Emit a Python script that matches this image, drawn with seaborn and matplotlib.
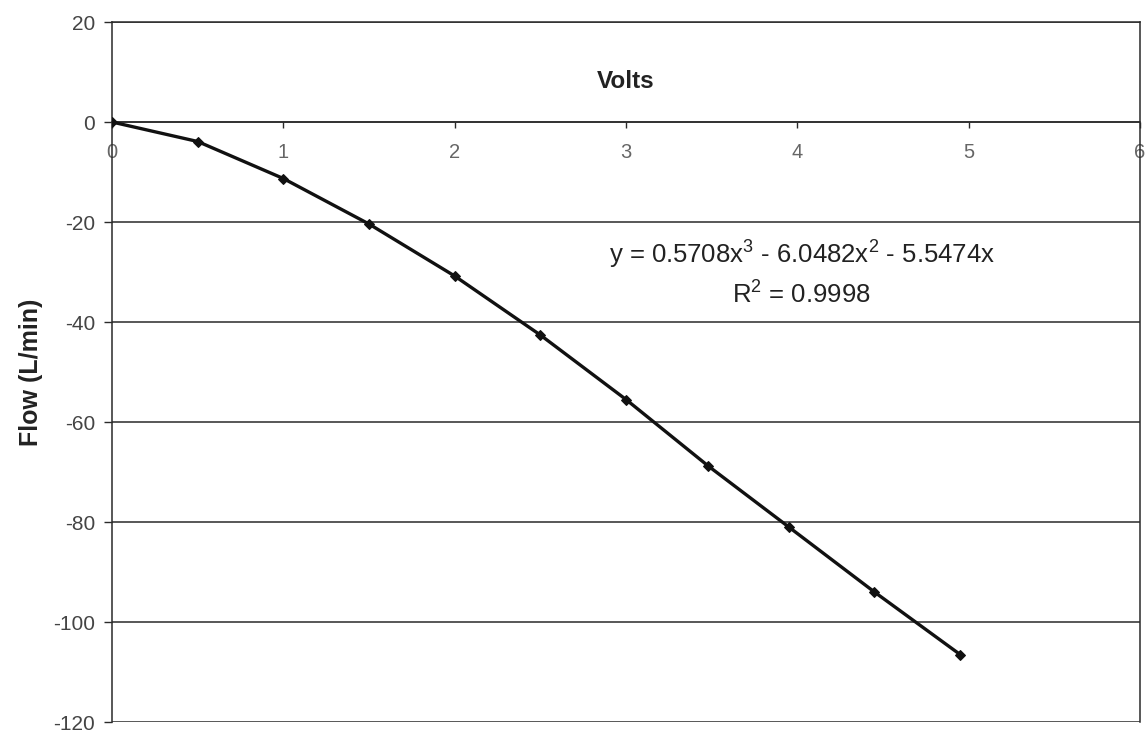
import matplotlib
matplotlib.use("Agg")
import matplotlib.pyplot as plt
import seaborn as sns
import pandas as pd

# Data
volts = [0, 0.5, 1.0, 1.5, 2.0, 2.5, 3.0, 3.48, 3.95, 4.45, 4.95]
flow = [0, -3.9, -11.3, -20.4, -30.8, -42.6, -55.5, -68.8, -81.0, -94.0, -106.5]
x_ticks = [0, 1, 2, 3, 4, 5, 6]
y_ticks = [-120, -100, -80, -60, -40, -20, 0, 20]
x_label = "Volts"
y_label = "Flow (L/min)"
eq_text = r"y = 0.5708x$^3$ - 6.0482x$^2$ - 5.5474x"
r2_text = r"R$^2$ = 0.9998"

sns.set_theme(style="white")
plt.rcParams["font.family"] = ["Liberation Sans", "DejaVu Sans"]
plt.rcParams["axes.unicode_minus"] = False
plt.rcParams["mathtext.fontset"] = "custom"
plt.rcParams["mathtext.rm"] = "Liberation Sans"
plt.rcParams["mathtext.it"] = "Liberation Sans"
plt.rcParams["mathtext.bf"] = "Liberation Sans:bold"

df = pd.DataFrame({"Volts": volts, "Flow": flow})

fig = plt.figure(figsize=(11.45, 7.36), dpi=100)
ax = fig.add_axes([112 / 1145, 1 - 722 / 736, (1140 - 112) / 1145, 700 / 736])

ax.set_xlim(0, 6)
ax.set_ylim(-120, 20)
ax.set_yticks(y_ticks)
ax.set_xticks(x_ticks)

for yv in y_ticks:
    ax.axhline(yv, color="#2a2a2a", lw=1.1, zorder=1)

sns.lineplot(data=df, x="Volts", y="Flow", ax=ax, color="#111111", lw=2.4,
             marker="D", markersize=5, markeredgecolor="#111111", zorder=3)

ax.spines["bottom"].set_position(("data", 0))
for s in ["left", "right", "top", "bottom"]:
    ax.spines[s].set_color("#2a2a2a")
    ax.spines[s].set_linewidth(1.1)

ax.tick_params(axis="y", direction="out", length=6, width=1.0, color="#2a2a2a",
               pad=6, labelsize=15, labelcolor="#444444", left=True)
ax.tick_params(axis="x", direction="out", length=4, width=1.0, color="#2a2a2a",
               pad=11, labelsize=14.5, labelcolor="#666666", bottom=True)

ax.set_xlabel(x_label, fontsize=17.5, fontweight="bold", color="#222222")
ax.xaxis.set_label_coords(0.5, 0.932)
ax.set_ylabel(y_label, fontsize=18, fontweight="bold", color="#222222")
ax.yaxis.set_label_coords(-0.067, 0.5)

ax.text(0.671, 0.667, eq_text, transform=ax.transAxes, ha="center", va="center",
        fontsize=18.5, color="#222222")
ax.text(0.671, 0.61, r2_text, transform=ax.transAxes, ha="center", va="center",
        fontsize=18.5, color="#222222")

fig.savefig("out.png", dpi=100)
